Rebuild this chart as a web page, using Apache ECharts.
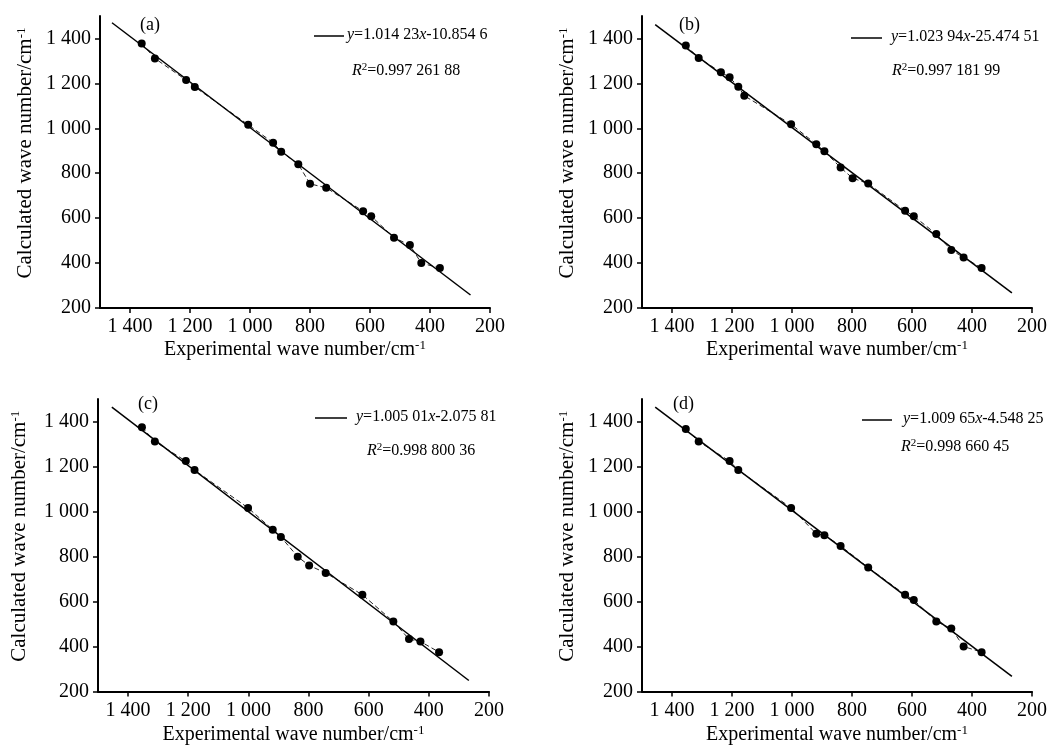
<!DOCTYPE html>
<html>
<head>
<meta charset="utf-8">
<script src="https://cdn.jsdelivr.net/npm/echarts@6/dist/echarts.min.js"></script>
<style>
html,body{margin:0;padding:0;background:#fff;}
#chart{width:1051px;height:746px;}
</style>
</head>
<body>
<div id="chart"></div>
<script>
// ---- data ----
const tickValues = [200, 400, 600, 800, 1000, 1200, 1400];

const expA  = [1361, 1317, 1213, 1184, 1006, 923, 896, 839, 800, 746, 623, 596, 520, 467, 429, 367];
const calcA = [1378, 1311, 1215, 1184, 1016, 936, 896, 840, 753, 735, 631, 609, 513, 480, 400, 378];
const fitXA = [1460, 265];
const fitYA = [1470, 258];

const expB  = [1354, 1311, 1237, 1208, 1179, 1159, 1003, 919, 892, 838, 798, 746, 623, 594, 519, 469, 428, 368];
const calcB = [1369, 1313, 1250, 1227, 1185, 1145, 1018, 929, 898, 825, 778, 754, 633, 609, 529, 458, 425, 378];
const fitXB = [1456, 267];
const fitYB = [1462, 267];

const expC  = [1354, 1311, 1208, 1179, 1001, 919, 892, 836, 798, 743, 621, 518, 466, 428, 366];
const calcC = [1375, 1311, 1224, 1184, 1016, 919, 887, 799, 760, 727, 630, 511, 433, 422, 375];
const fitXC = [1454, 267];
const fitYC = [1464, 249];

const expD  = [1354, 1311, 1208, 1179, 1003, 919, 892, 838, 746, 623, 594, 519, 469, 428, 368];
const calcD = [1367, 1311, 1224, 1184, 1016, 901, 895, 847, 751, 630, 607, 511, 480, 400, 375];
const fitXD = [1456, 267];
const fitYD = [1464, 267];

const panelLabels = ['(a)', '(b)', '(c)', '(d)'];
const slopes = ['1.014 23', '1.023 94', '1.005 01', '1.009 65'];
const intercepts = ['-10.854 6', '-25.474 51', '-2.075 81', '-4.548 25'];
const r2s = ['0.997 261 88', '0.997 181 99', '0.998 800 36', '0.998 660 45'];

// ---- layout ----
const FONT = '"Liberation Serif", "Times New Roman", serif';
const grids = [
  {left: 100, top: 16, width: 390, height: 292},
  {left: 642, top: 16, width: 390, height: 292},
  {left: 98,  top: 399, width: 391, height: 293},
  {left: 642, top: 399, width: 390, height: 293}
];
const yNameGap = [64, 64, 68, 64];
const xNameGap = [31, 31, 33, 33];
const labelPos = [[140, 16], [679, 16], [138, 395], [673, 395]];
const eqPos = [[347, 27], [891, 29], [356, 409], [903, 411]];
const r2Pos = [[352, 62], [892, 62], [367, 442], [901, 438]];
const legLine = [[314, 344, 36], [851, 882, 38], [315, 347, 418], [862, 892, 420]];

function fmt(v) {
  if (v >= 1000) {
    return Math.floor(v / 1000) + ' ' + String(v % 1000).padStart(3, '0');
  }
  return String(v);
}

const richSup = {
  sup: {fontSize: 11, fontFamily: FONT, color: '#000', verticalAlign: 'top', padding: [0, 0, 6, 0]},
  i: {fontStyle: 'italic', fontSize: 16, fontFamily: FONT, color: '#000'}
};

const xAxes = [], yAxes = [], series = [], titles = [], graphics = [];
const sets = [
  [expA, calcA, fitXA, fitYA],
  [expB, calcB, fitXB, fitYB],
  [expC, calcC, fitXC, fitYC],
  [expD, calcD, fitXD, fitYD]
];

for (let k = 0; k < 4; k++) {
  const axisLine = {show: true, lineStyle: {color: '#000', width: 2}};
  const axisTick = {show: true, length: 5, customValues: tickValues, lineStyle: {color: '#000', width: 1.5}};
  const nameRich = {sup: {fontSize: 13, fontFamily: FONT, color: '#000', verticalAlign: 'top', padding: [0, 0, 8, 0]}};
  xAxes.push({
    type: 'value', gridIndex: k, min: 200, max: 1500, inverse: true,
    axisLine: axisLine, axisTick: axisTick, splitLine: {show: false},
    axisLabel: {customValues: tickValues, formatter: fmt, fontFamily: FONT, fontSize: 20, color: '#000', margin: 9},
    name: 'Experimental wave number/cm{sup|-1}', nameLocation: 'middle', nameGap: xNameGap[k],
    nameTextStyle: {fontFamily: FONT, fontSize: 20, color: '#000', rich: nameRich}
  });
  yAxes.push({
    type: 'value', gridIndex: k, min: 200, max: 1500,
    axisLine: axisLine, axisTick: axisTick, splitLine: {show: false},
    axisLabel: {customValues: tickValues, formatter: fmt, fontFamily: FONT, fontSize: 20, color: '#000', margin: 9},
    name: 'Calculated wave number/cm{sup|-1}', nameLocation: 'middle', nameGap: yNameGap[k],
    nameTextStyle: {fontFamily: FONT, fontSize: 21, color: '#000', padding: [0, 0, 0, 18], rich: nameRich}
  });
  const s = sets[k];
  series.push({
    type: 'line', xAxisIndex: k, yAxisIndex: k,
    data: s[0].map((x, i) => [x, s[1][i]]),
    symbol: 'circle', symbolSize: 8,
    itemStyle: {color: '#000'},
    lineStyle: {color: '#222', width: 1, type: [5, 3]},
    z: 3, silent: true, animation: false
  });
  series.push({
    type: 'line', xAxisIndex: k, yAxisIndex: k,
    data: s[2].map((x, i) => [x, s[3][i]]),
    symbol: 'none',
    lineStyle: {color: '#000', width: 1.5},
    z: 4, silent: true, animation: false
  });
  titles.push({
    text: panelLabels[k], left: labelPos[k][0], top: labelPos[k][1], padding: 0,
    textStyle: {fontFamily: FONT, fontSize: 18, fontWeight: 'normal', color: '#000'}
  });
  titles.push({
    text: '{i|y}=' + slopes[k] + '{i|x}' + intercepts[k], left: eqPos[k][0], top: eqPos[k][1], padding: 0,
    textStyle: {fontFamily: FONT, fontSize: 16, fontWeight: 'normal', color: '#000', rich: richSup}
  });
  titles.push({
    text: '{i|R}{sup|2}=' + r2s[k], left: r2Pos[k][0], top: r2Pos[k][1], padding: 0,
    textStyle: {fontFamily: FONT, fontSize: 16, fontWeight: 'normal', color: '#000', rich: richSup}
  });
  graphics.push({
    type: 'line', shape: {x1: legLine[k][0], y1: legLine[k][2], x2: legLine[k][1], y2: legLine[k][2]},
    style: {stroke: '#000', lineWidth: 1.5}, silent: true
  });
}

const chart = echarts.init(document.getElementById('chart'), null, {renderer: 'canvas'});
chart.setOption({
  backgroundColor: '#fff',
  animation: false,
  title: titles,
  grid: grids,
  xAxis: xAxes,
  yAxis: yAxes,
  series: series,
  graphic: graphics
});
</script>
</body>
</html>
